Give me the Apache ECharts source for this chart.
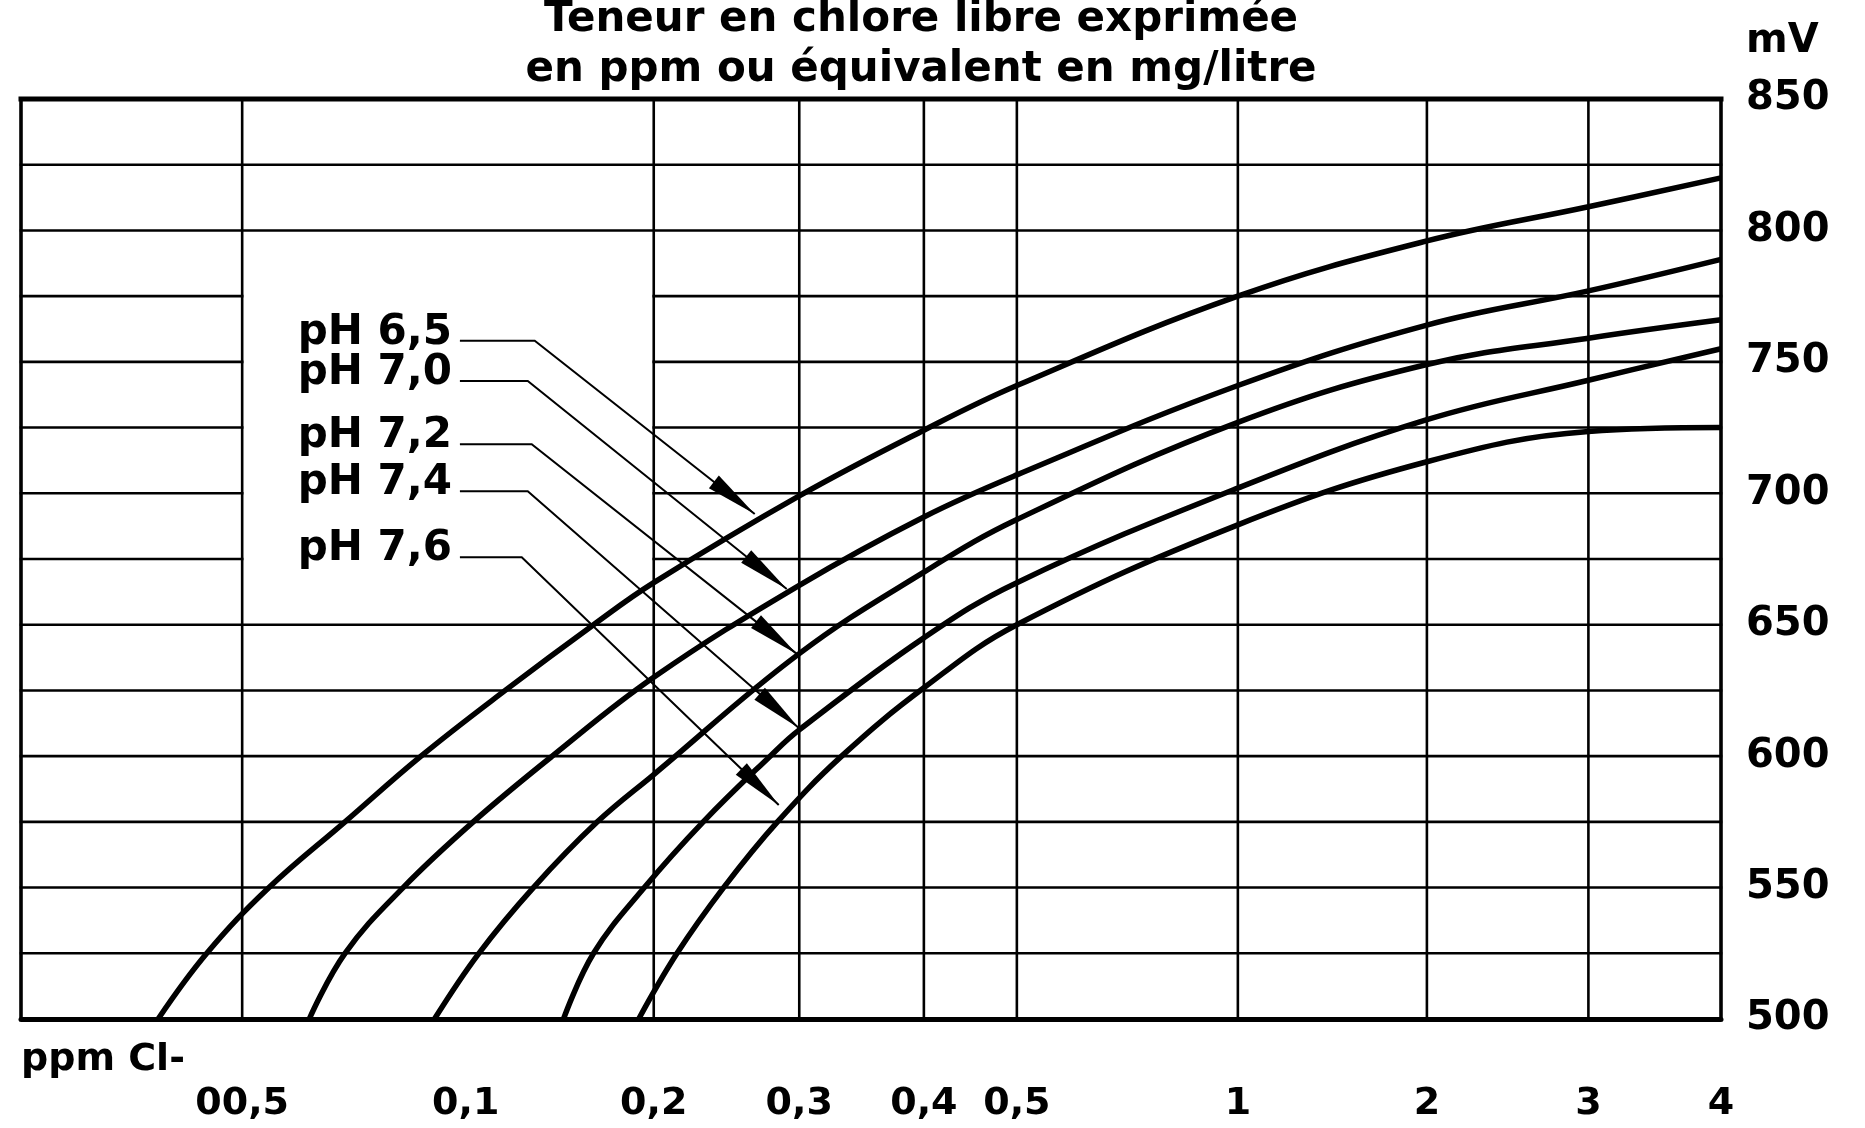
<!DOCTYPE html>
<html>
<head>
<meta charset="utf-8">
<script src="https://cdn.jsdelivr.net/npm/echarts@6/dist/echarts.min.js"></script>
<style>
html,body{margin:0;padding:0;background:#fff;}
#chart{width:1865px;height:1128px;}
</style>
</head>
<body>
<div id="chart"></div>
<script>
// ---------- texts ----------
const titleText = 'Teneur en chlore libre exprimée\nen ppm ou équivalent en mg/litre';
const yUnit = 'mV';
const xUnit = 'ppm Cl-';

// ---------- axes ----------
const xTickValues = [0.05, 0.1, 0.2, 0.3, 0.4, 0.5, 1, 2, 3, 4];
const xTickLabels = ['00,5', '0,1', '0,2', '0,3', '0,4', '0,5', '1', '2', '3', '4'];
const xGridValues = [0.05, 0.2, 0.3, 0.4, 0.5, 1, 2, 3];
const yMin = 500;
const yMax = 850;
const yLabelStep = 50;
const yGridValues = [525, 550, 575, 600, 625, 650, 675, 700, 725, 750, 775, 800, 825];
const yGapValues = [675, 700, 725, 750, 775];   // lines interrupted between 0.05 and 0.2 ppm
const yGapFrom = 0.05;
const yGapTo = 0.2;

// irregular (hand drawn) ppm scale of the original: ppm -> relative position on the axis
const xScalePpm = [0, 0.05, 0.1, 0.2, 0.3, 0.4, 0.5, 1, 2, 3, 4];
const xScaleRel = [0, 0.1301, 0.2616, 0.3722, 0.4578, 0.5311, 0.5858, 0.7158, 0.8270, 0.9220, 1];

// ---------- series (ppm, mV) ----------
const seriesNames = ['pH 6,5', 'pH 7,0', 'pH 7,2', 'pH 7,4', 'pH 7,6'];
const ph65 = [[0.031,500],[0.042,525],[0.056,550],[0.073,575],[0.090,600],[0.121,625],[0.168,650],[0.2,666],[0.3,699],[0.4,724],[0.5,741],[1,775],[2,796],[3,809],[4,820]];
const ph70 = [[0.065,500],[0.073,525],[0.086,550],[0.104,575],[0.146,600],[0.2,630],[0.3,665],[0.4,691],[0.5,707],[1,741],[2,764],[3,777],[4,789]];
const ph72 = [[0.093,500],[0.107,525],[0.136,550],[0.170,575],[0.2,593],[0.3,639],[0.4,670],[0.5,690],[1,727],[2,749],[3,759],[4,766]];
const ph74 = [[0.152,500],[0.168,525],[0.195,550],[0.234,575],[0.280,600],[0.3,610],[0.4,645],[0.5,666],[1,702],[2,728],[3,743],[4,755]];
const ph76 = [[0.192,500],[0.216,525],[0.248,550],[0.285,575],[0.334,600],[0.4,626],[0.5,650],[1,688],[2,712],[3,723.5],[4,725]];
const seriesData = [ph65, ph70, ph72, ph74, ph76];

// ---------- pH call-outs (data coordinates: ppm, mV) ----------
const leaderStartX = 0.0987;
const leaderBendX = [0.1367, 0.1330, 0.1351, 0.1330, 0.1298];
const leaderY = [758, 742.7, 718.7, 700.8, 675.7];
const arrowTipX = [0.2694, 0.2914, 0.2983, 0.2997, 0.2859];
const arrowTipY = [692.1, 663.6, 638.9, 610.7, 581.4];

// ---------- helpers ----------
function xPos(p) {
  for (let i = 1; i < xScalePpm.length; i++) {
    if (p <= xScalePpm[i]) {
      const t = (p - xScalePpm[i - 1]) / (xScalePpm[i] - xScalePpm[i - 1]);
      return xScaleRel[i - 1] + t * (xScaleRel[i] - xScaleRel[i - 1]);
    }
  }
  return 1;
}
const FONT = '"DejaVu Sans", "Liberation Sans", sans-serif';

// grid segments built from the tick arrays
const gridSegs = [];
xGridValues.forEach(x => gridSegs.push({x1: x, y1: yMin, x2: x, y2: yMax, w: 2.6}));
gridSegs.push({x1: 0, y1: yMin, x2: 0, y2: yMax, w: 3.6});
gridSegs.push({x1: 0, y1: yMax, x2: 4, y2: yMax, w: 5});
yGridValues.forEach(y => {
  if (yGapValues.indexOf(y) >= 0) {
    gridSegs.push({x1: 0, y1: y, x2: yGapFrom, y2: y, w: 2.6});
    gridSegs.push({x1: yGapTo, y1: y, x2: 4, y2: y, w: 2.6});
  } else {
    gridSegs.push({x1: 0, y1: y, x2: 4, y2: y, w: 2.6});
  }
});

const chart = echarts.init(document.getElementById('chart'), null, {renderer: 'canvas'});

const lineSeries = seriesData.map((d, i) => ({
  name: seriesNames[i],
  type: 'line',
  data: d.map(([p, v]) => [xPos(p), v]),
  smooth: 0.4,
  showSymbol: false,
  symbol: 'none',
  lineStyle: {color: '#000', width: 5.5},
  z: 3,
  silent: true
}));

const option = {
  backgroundColor: '#fff',
  animation: false,
  title: {
    text: titleText,
    left: 921,
    top: -5,
    padding: 0,
    textAlign: 'center',
    textStyle: {fontFamily: FONT, fontWeight: 'bold', fontSize: 42, lineHeight: 50, color: '#000'}
  },
  grid: {left: 21, top: 99, width: 1700, height: 920, outerBoundsMode: 'none', containLabel: false},
  xAxis: {
    type: 'value',
    min: 0,
    max: 1,
    name: xUnit,
    nameLocation: 'start',
    nameGap: 0,
    nameTextStyle: {fontFamily: FONT, fontWeight: 'bold', fontSize: 38, color: '#000', align: 'left', verticalAlign: 'top', padding: [22, 0, 0, 0]},
    axisLine: {show: true, onZero: false, lineStyle: {color: '#000', width: 5}},
    axisTick: {show: false},
    splitLine: {show: false},
    axisLabel: {
      customValues: xTickValues.map(xPos),
      margin: 85,
      verticalAlign: 'middle',
      fontFamily: FONT, fontWeight: 'bold', fontSize: 38, color: '#000',
      formatter: function (v) {
        let best = 0;
        for (let i = 1; i < xTickValues.length; i++) {
          if (Math.abs(xPos(xTickValues[i]) - v) < Math.abs(xPos(xTickValues[best]) - v)) best = i;
        }
        return xTickLabels[best];
      }
    }
  },
  yAxis: {
    type: 'value',
    position: 'right',
    min: yMin,
    max: yMax,
    interval: yLabelStep,
    name: yUnit,
    nameLocation: 'end',
    nameGap: 57,
    nameTextStyle: {fontFamily: FONT, fontWeight: 'bold', fontSize: 40, color: '#000', align: 'left', verticalAlign: 'middle', padding: [0, 0, 0, 25]},
    axisLine: {show: true, onZero: false, lineStyle: {color: '#000', width: 3.6}},
    axisTick: {show: false},
    splitLine: {show: false},
    axisLabel: {margin: 25, fontFamily: FONT, fontWeight: 'bold', fontSize: 40, color: '#000'}
  },
  series: [
    {
      name: 'grid',
      type: 'custom',
      silent: true,
      z: 1,
      encode: {x: [0, 2], y: [1, 3]},
      data: gridSegs.map(s => [xPos(s.x1), s.y1, xPos(s.x2), s.y2]),
      renderItem: function (params, api) {
        const a = api.coord([api.value(0), api.value(1)]);
        const b = api.coord([api.value(2), api.value(3)]);
        return {
          type: 'line',
          shape: {x1: a[0], y1: a[1], x2: b[0], y2: b[1]},
          style: {stroke: '#000', lineWidth: gridSegs[params.dataIndex].w, lineCap: 'square'}
        };
      }
    },
    ...lineSeries,
    {
      name: 'callouts',
      type: 'custom',
      silent: true,
      z: 5,
      encode: {x: 0, y: 1},
      data: seriesNames.map((n, i) => [xPos(arrowTipX[i]), arrowTipY[i]]),
      renderItem: function (params, api) {
        const i = params.dataIndex;
        const s = api.coord([xPos(leaderStartX), leaderY[i]]);
        const b = api.coord([xPos(leaderBendX[i]), leaderY[i]]);
        const t = api.coord([xPos(arrowTipX[i]), arrowTipY[i]]);
        const dx = t[0] - b[0], dy = t[1] - b[1];
        const len = Math.sqrt(dx * dx + dy * dy);
        const ux = dx / len, uy = dy / len;
        const L = 52, H = 8;
        const bx = t[0] - ux * L, by = t[1] - uy * L;
        return {
          type: 'group',
          children: [
            {type: 'polyline', shape: {points: [s, b, t]}, style: {stroke: '#000', lineWidth: 2, fill: null}},
            {type: 'polygon', shape: {points: [[t[0], t[1]], [bx - uy * H, by + ux * H], [bx + uy * H, by - ux * H]]}, style: {fill: '#000'}},
            {type: 'text', style: {text: seriesNames[i], x: s[0] - 8, y: s[1] - 8, align: 'right', verticalAlign: 'middle', font: 'bold 42px ' + FONT, fill: '#000'}}
          ]
        };
      }
    }
  ]
};
chart.setOption(option);
</script>
</body>
</html>
